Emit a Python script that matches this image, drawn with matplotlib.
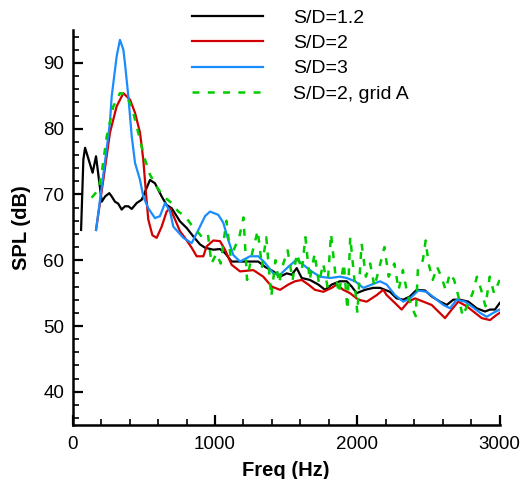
#!/usr/bin/env python3

import matplotlib

matplotlib.use('Agg')
import matplotlib.pyplot as plt
from matplotlib.ticker import MultipleLocator


OUT_FILE = 'out.png'

# S/D=1.2
freq_12 = [59, 75, 87, 140, 164, 204, 228, 257, 274, 297, 320, 344, 367, 391,
           415, 450, 485, 543, 578, 625, 660, 696, 754, 801, 848, 895, 930,
           988, 1035, 1070, 1117, 1176, 1246, 1304, 1351, 1410, 1457, 1504,
           1539, 1574, 1609, 1667, 1726, 1773, 1820, 1878, 1925, 1960, 1995,
           2054, 2112, 2159, 2229, 2276, 2323, 2370, 2417, 2475, 2522, 2581,
           2628, 2674, 2721, 2780, 2838, 2897, 2932, 2967, 3000]
spl_12 = [64.6, 75.3, 77.1, 73.3, 75.8, 68.9, 69.7, 70.2, 69.7, 68.9, 68.6,
          67.7, 68.2, 68.2, 67.8, 68.7, 69.2, 72.2, 71.7, 69.7, 68.4, 67.9,
          65.9, 64.9, 63.6, 62.4, 61.9, 61.6, 61.7, 61.1, 59.8, 59.8, 59.8,
          59.8, 59.0, 58.3, 57.5, 58.0, 57.8, 58.8, 57.3, 57.0, 56.3, 55.5,
          56.3, 56.8, 56.8, 56.0, 55.0, 55.5, 55.8, 55.8, 55.2, 54.2, 54.0,
          54.5, 55.5, 55.4, 54.5, 53.7, 53.2, 54.0, 54.0, 53.7, 52.7, 52.2,
          52.5, 52.5, 53.5]

# S/D=2
freq_2 = [164, 215, 262, 309, 356, 403, 438, 473, 496, 515, 531, 560, 590,
          625, 660, 684, 719, 754, 789, 836, 871, 918, 941, 988, 1035, 1070,
          1117, 1176, 1269, 1339, 1398, 1457, 1515, 1562, 1609, 1656, 1702,
          1761, 1820, 1855, 1901, 1948, 2007, 2066, 2136, 2182, 2206, 2264,
          2311, 2358, 2405, 2464, 2522, 2569, 2616, 2663, 2709, 2768, 2827,
          2874, 2932, 2979, 3000]
spl_2 = [64.6, 72.2, 79.4, 83.4, 85.4, 84.4, 82.4, 79.4, 75.3, 70.2, 66.2,
         63.8, 63.4, 65.1, 67.4, 67.9, 66.2, 64.4, 63.4, 61.9, 60.6, 60.6,
         62.1, 63.0, 62.9, 61.6, 59.3, 58.3, 58.5, 57.5, 56.0, 55.5, 56.3,
         56.8, 57.0, 56.3, 55.5, 55.2, 55.8, 56.3, 55.5, 55.0, 54.0, 53.7,
         54.7, 55.5, 54.7, 53.5, 52.5, 53.7, 54.2, 53.7, 53.2, 52.2, 51.2,
         52.5, 53.7, 53.0, 52.0, 51.2, 50.9, 51.7, 52.0]

# S/D=3
freq_3 = [164, 200, 239, 262, 274, 309, 332, 356, 367, 391, 415, 438, 473,
          496, 531, 578, 613, 649, 684, 707, 778, 836, 883, 930, 965, 1023,
          1058, 1093, 1128, 1176, 1246, 1304, 1351, 1410, 1457, 1515, 1574,
          1620, 1679, 1737, 1808, 1878, 1925, 1984, 2042, 2101, 2159, 2206,
          2264, 2323, 2370, 2428, 2487, 2546, 2604, 2651, 2698, 2756, 2803,
          2862, 2909, 2955, 3000]
spl_3 = [64.6, 70.5, 77.0, 81.0, 84.9, 91.0, 93.5, 92.0, 90.0, 84.9, 78.8,
         74.8, 72.2, 69.7, 67.9, 66.4, 66.7, 68.7, 67.4, 65.1, 63.4, 62.6,
         64.6, 66.7, 67.4, 66.9, 65.7, 63.1, 60.8, 59.8, 60.6, 60.6, 59.6,
         58.0, 57.8, 59.0, 60.1, 59.3, 58.3, 57.5, 57.3, 57.5, 57.3, 56.8,
         55.8, 56.3, 56.8, 56.3, 54.7, 53.7, 54.2, 55.4, 55.2, 54.2, 53.2,
         52.7, 54.0, 53.7, 53.0, 52.0, 51.4, 52.0, 52.5]

# S/D=2, grid A
freq_2a = [133, 180, 204, 239, 286, 332, 379, 426, 473, 508, 543, 590, 637,
           696, 742, 789, 830, 870, 910, 950, 975, 1010, 1040, 1080, 1110,
           1140, 1170, 1200, 1225, 1260, 1300, 1330, 1360, 1395, 1425, 1450,
           1480, 1510, 1545, 1575, 1610, 1635, 1665, 1700, 1730, 1760, 1790,
           1815, 1845, 1870, 1905, 1930, 1950, 1975, 2000, 2030, 2060, 2090,
           2120, 2150, 2190, 2220, 2260, 2290, 2320, 2350, 2380, 2410, 2425,
           2460, 2480, 2500, 2530, 2560, 2590, 2620, 2650, 2680, 2710, 2740,
           2780, 2810, 2840, 2870, 2900, 2930, 2960, 3000]
spl_2a = [69.5, 70.7, 73.3, 78.8, 83.4, 85.4, 85.2, 82.4, 78.3, 75.3, 73.0,
          71.2, 69.7, 68.7, 67.4, 66.7, 65.5, 64.5, 63.5, 64.0, 59.5, 61.0,
          59.5, 66.0, 60.5, 62.0, 63.5, 66.5, 57.0, 61.0, 64.5, 59.0, 63.5,
          54.5, 60.0, 56.5, 59.5, 61.5, 57.0, 61.0, 58.5, 63.5, 57.0, 61.0,
          56.5, 59.5, 56.0, 64.0, 58.0, 55.0, 59.5, 52.5, 63.5, 58.0, 52.0,
          62.5, 57.5, 59.5, 56.0, 58.5, 62.0, 57.5, 59.5, 55.5, 58.5, 55.0,
          53.0, 51.5, 58.5, 60.0, 63.0, 59.5, 57.0, 59.0, 57.5, 55.5, 58.0,
          57.0, 54.5, 51.5, 53.5, 55.0, 57.5, 55.5, 53.0, 57.5, 55.0, 57.0]

labels = ['S/D=1.2', 'S/D=2', 'S/D=3', 'S/D=2, grid A']


def main():
    plt.rcParams['font.family'] = ['Liberation Sans', 'DejaVu Sans']
    plt.rcParams['lines.scale_dashes'] = False

    fig = plt.figure(figsize=(5.29, 4.79), dpi=100)
    ax = fig.add_axes([0.1374, 0.1134, 0.8072, 0.824])

    ax.plot(freq_12, spl_12, color='black', linewidth=1.6, label=labels[0])
    ax.plot(freq_2, spl_2, color='#d00000', linewidth=1.6, label=labels[1])
    ax.plot(freq_3, spl_3, color='#1a8cff', linewidth=1.6, label=labels[2])
    ax.plot(freq_2a, spl_2a, color='#00cc00', linewidth=1.8,
            dashes=(5, 6), label=labels[3])

    ax.set_xlim(0, 3000)
    ax.set_ylim(35, 95)
    ax.xaxis.set_major_locator(MultipleLocator(1000))
    ax.xaxis.set_minor_locator(MultipleLocator(200))
    ax.yaxis.set_minor_locator(MultipleLocator(2))
    ax.set_yticks([40, 50, 60, 70, 80, 90])

    for side in ('top', 'right'):
        ax.spines[side].set_visible(False)
    for side in ('left', 'bottom'):
        ax.spines[side].set_linewidth(1.8)

    ax.tick_params(which='major', direction='in', length=7.5, width=1.6,
                   labelsize=13.5)
    ax.tick_params(axis='x', which='major', pad=8)
    ax.tick_params(axis='y', which='major', pad=6)
    ax.tick_params(which='minor', direction='in', length=4.5, width=1.2)

    ax.set_xlabel('Freq (Hz)', fontsize=14.5, fontweight='bold', labelpad=6)
    ax.set_ylabel('SPL (dB)', fontsize=14.5, fontweight='bold', labelpad=9)

    fig.legend(loc='upper left', bbox_to_anchor=(192 / 529, 1 - 9 / 479),
               frameon=False, fontsize=14, handlelength=3.66,
               handletextpad=1.55, labelspacing=0.4, borderpad=0,
               borderaxespad=0)

    fig.savefig(OUT_FILE, dpi=100)
    plt.close(fig)


if __name__ == '__main__':
    main()
